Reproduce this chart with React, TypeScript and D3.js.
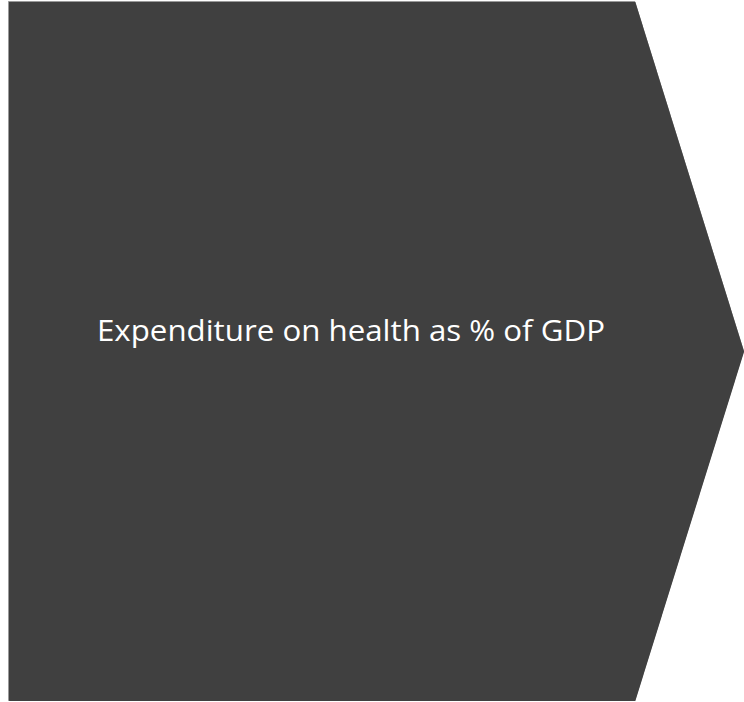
import React from "react";
import * as d3 from "d3";

const labels = ["Expenditure on health as % of GDP"];
// chevron outline in unit coordinates (x: 0..1 across the shape, y: 0..1 top to bottom)
const outlineX = [0, 0.852, 1, 0.852, 0];
const outlineY = [0, 0, 0.5, 1, 1];

const W = 744;
const H = 702;

export default function App() {
  const x = d3.scaleLinear().domain([0, 1]).range([8.5, 743.5]);
  const y = d3.scaleLinear().domain([0, 1]).range([1.5, 700.5]);
  const pts: [number, number][] = outlineX.map((v, i) => [x(v), y(outlineY[i])]);
  const path = d3.line().curve(d3.curveLinearClosed)(pts) || "";
  return (
    <svg
      width={W}
      height={H}
      style={{ position: "absolute", left: 0, top: 0, display: "block" }}
    >
      <rect width={W} height={H} fill="#ffffff" />
      <path d={path} fill="#404040" stroke="#9a9a9a" strokeWidth={1} />
      <path d={path} fill="#404040" stroke="none" transform="translate(0.6,0.6)" />
      {labels.map((t, i) => (
        <text
          key={i}
          x={351}
          y={341}
          textAnchor="middle"
          fill="#ffffff"
          fontFamily="'Open Sans', sans-serif"
          fontWeight={400}
          fontSize={29}
          textLength={508}
          lengthAdjust="spacingAndGlyphs"
        >
          {t}
        </text>
      ))}
    </svg>
  );
}
